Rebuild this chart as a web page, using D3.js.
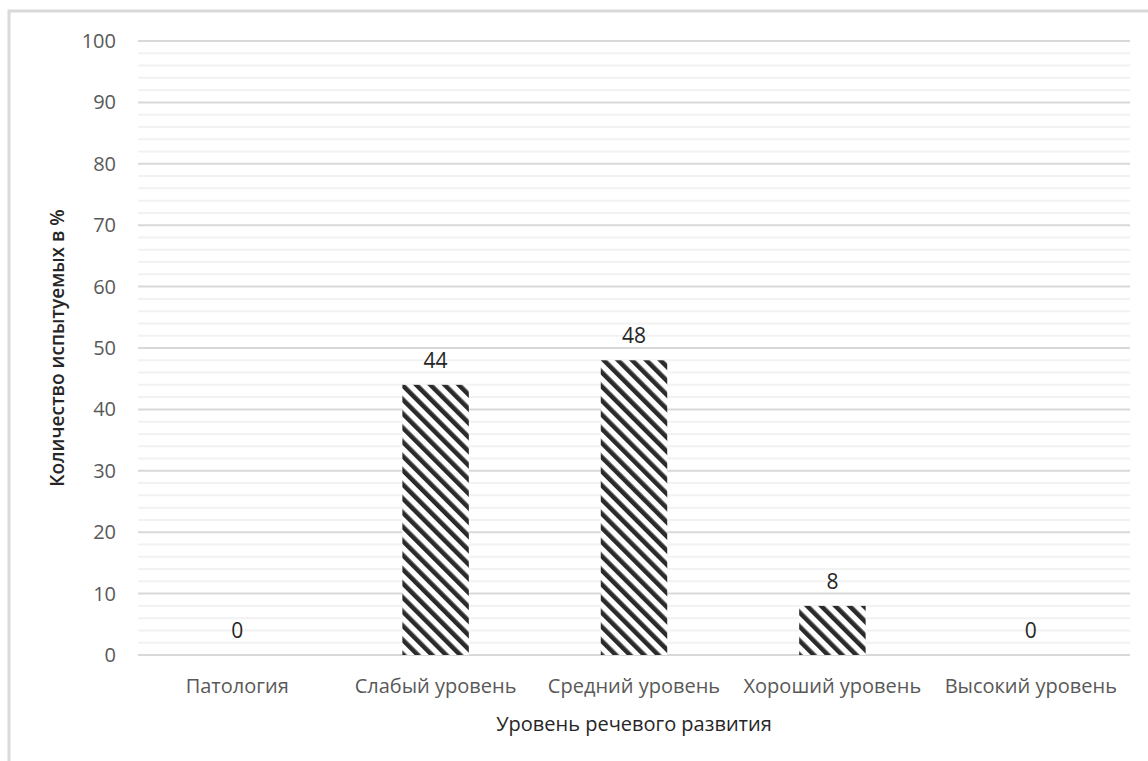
<!DOCTYPE html>
<html><head><meta charset="utf-8">
<script src="https://cdn.jsdelivr.net/npm/d3@7"></script>
<style>body{margin:0;background:#fff;} svg{display:block;}</style>
</head><body>
<svg id="c" width="1148" height="761"></svg>
<script>
const categories = ["Патология","Слабый уровень","Средний уровень","Хороший уровень","Высокий уровень"];
const values = [0,44,48,8,0];
const yTicks = [0,10,20,30,40,50,60,70,80,90,100];
const minorTicks = d3.range(0,101,2);
const yTitle = "Количество испытуемых в %";
const xTitle = "Уровень речевого развития";

const svg = d3.select("#c");
const font = "'Open Sans', 'Noto Sans', sans-serif";
const m = {left:138, right:1130, top:41, bottom:655};

const defs = svg.append("defs");
const pat = defs.append("pattern").attr("id","hatch").attr("patternUnits","userSpaceOnUse")
  .attr("width",10).attr("height",10).attr("patternTransform","rotate(-45)");
pat.append("rect").attr("width",10).attr("height",10).attr("fill","#fff");
pat.append("rect").attr("x",0).attr("width",4.6).attr("height",10).attr("fill","#2b2b2b");

// outer border
svg.append("path").attr("d","M9,761 V11 H1148").attr("fill","none").attr("stroke","#d9d9d9").attr("stroke-width",3);

const x = d3.scaleBand().domain(categories).range([m.left,m.right]).paddingInner(0.665).paddingOuter(0.3325);
const y = d3.scaleLinear().domain([0,100]).range([m.bottom,m.top]);

svg.append("g").selectAll("line").data(minorTicks.filter(d=>d%10!==0)).join("line")
  .attr("x1",m.left).attr("x2",m.right).attr("y1",d=>y(d)).attr("y2",d=>y(d))
  .attr("stroke","#f2f2f2").attr("stroke-width",2);
svg.append("g").selectAll("line").data(yTicks).join("line")
  .attr("x1",m.left).attr("x2",m.right).attr("y1",d=>y(d)).attr("y2",d=>y(d))
  .attr("stroke","#d9d9d9").attr("stroke-width",2);

const yAxis = svg.append("g").attr("transform",`translate(${m.left},0)`)
  .call(d3.axisLeft(y).tickValues(yTicks).tickSize(0).tickPadding(22));
yAxis.select(".domain").remove();
yAxis.selectAll("text").attr("font-family",font).attr("font-size",20).attr("fill","#595959");

svg.append("g").selectAll("rect").data(values).join("rect")
  .attr("x",(d,i)=>x(categories[i])).attr("width",x.bandwidth())
  .attr("y",d=>y(d)).attr("height",d=>y(0)-y(d)).attr("fill","url(#hatch)");

svg.append("g").selectAll("text").data(values).join("text")
  .attr("x",(d,i)=>x(categories[i])+x.bandwidth()/2).attr("y",d=>y(d)-17)
  .attr("text-anchor","middle").attr("font-family",font).attr("font-size",21).attr("fill","#262626")
  .text(d=>d);

const xAxis = svg.append("g").attr("transform",`translate(0,${m.bottom})`)
  .call(d3.axisBottom(x).tickSize(0).tickPadding(24));
xAxis.select(".domain").remove();
xAxis.selectAll("text").attr("font-family",font).attr("font-size",20).attr("fill","#595959");

svg.append("text").attr("x",(m.left+m.right)/2).attr("y",731).attr("text-anchor","middle")
  .attr("font-family",font).attr("font-size",20).attr("fill","#262626").text(xTitle);
svg.append("text").attr("transform",`translate(64,348) rotate(-90)`).attr("text-anchor","middle")
  .attr("font-family",font).attr("font-size",19).attr("font-weight",600).attr("fill","#262626").text(yTitle);
</script>
</body></html>
